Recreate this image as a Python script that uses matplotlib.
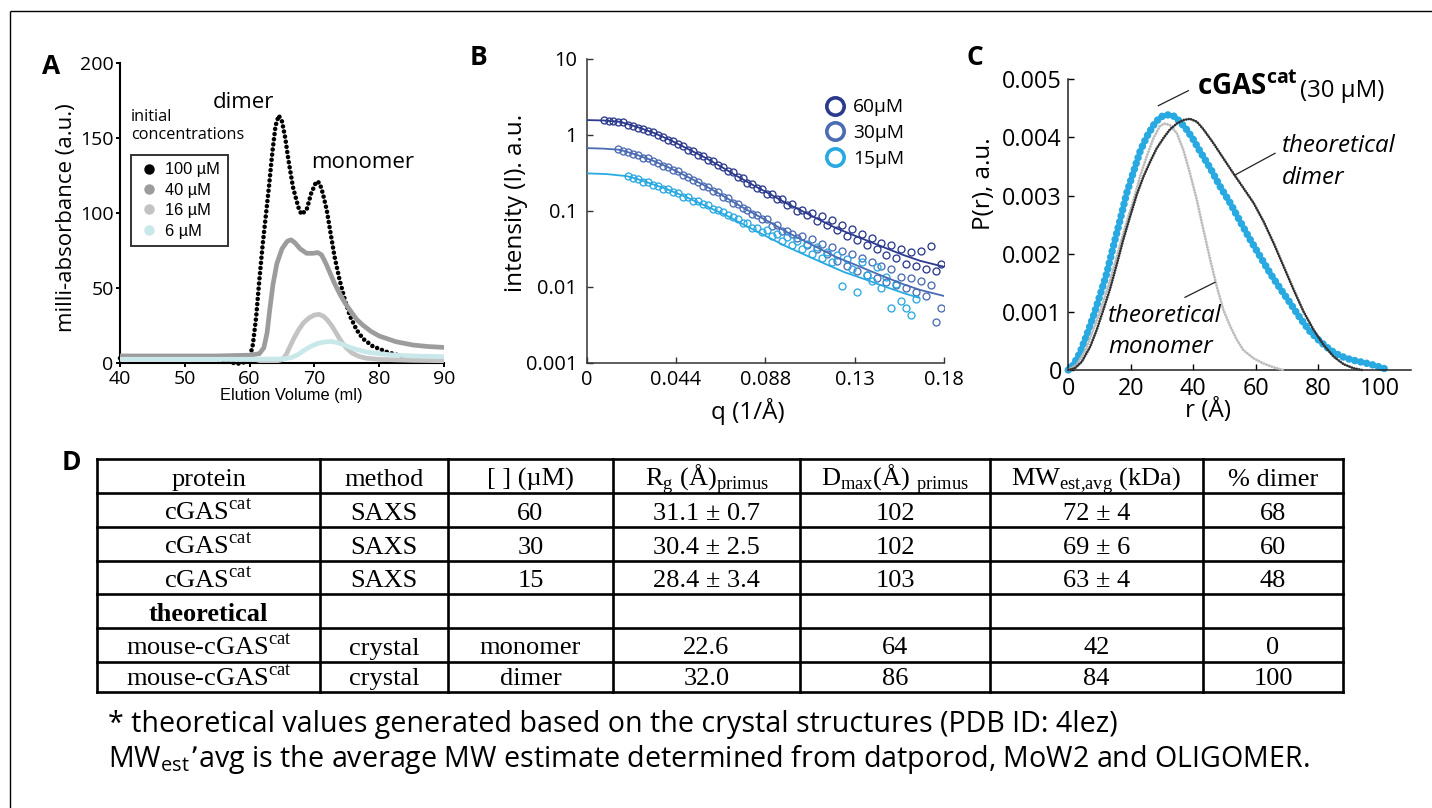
import matplotlib
matplotlib.use("Agg")
import matplotlib.pyplot as plt
from matplotlib.lines import Line2D
from matplotlib.ticker import NullLocator, FixedLocator, FixedFormatter
import numpy as np

W, H = 1432, 808
SANS = ["Open Sans", "DejaVu Sans"]
ARIAL = ["Liberation Sans", "DejaVu Sans"]
SERIF = ["Liberation Serif", "DejaVu Serif"]
plt.rcParams["font.family"] = SANS

# ---------------- Panel A : size-exclusion traces ----------------
a_labels = ["100 µM", "40 µM", "16 µM", "6 µM"]
a_colors = ["#000000", "#9c9c9c", "#c3c3c3", "#c8e8ea"]
vol_100 = [40, 45, 50, 55, 57, 58, 59, 60.0, 60.5, 61.0, 61.5, 62.0, 62.5, 63.0, 63.5, 64.0, 64.5,
           65.0, 65.5, 66.0, 66.7, 67.5, 68.0, 68.8, 69.5, 70.3, 70.8, 71.3, 71.9, 72.4, 73.1,
           73.9, 74.7, 75.5, 76.5, 77.5, 79.0, 81.1, 83.7, 86.2]
abs_100 = [3, 3, 3, 2.5, 0.5, -0.8, 0, 3, 12, 30, 55, 78, 98, 118, 140, 158, 165,
           161, 150, 135, 117, 104, 99, 102, 113, 121, 120, 113, 102, 89, 71,
           55, 42, 31, 22, 16, 11, 7.3, 4, 3]
vol_40 = [40, 50, 55, 60, 61.5, 62.2, 62.7, 63.1, 63.6, 64.2, 65.0, 65.8, 66.4, 67.0, 67.8,
          68.8, 69.8, 70.5, 71.1, 71.8, 72.4, 73.1, 73.9, 74.7, 75.5, 76.5, 77.5, 78.7, 80.0,
          82.6, 85.2, 87.5, 90.0]
abs_40 = [4.5, 4.5, 4.5, 5, 6, 10, 20, 35, 52, 66, 76, 81, 82, 80, 76,
          73, 73, 73.5, 72, 66, 60, 53, 46, 40, 35, 29, 25, 21, 17.8,
          14, 11.8, 10.8, 10.2]
vol_16 = [40, 55, 61, 62, 64, 65.0, 65.6, 66.2, 66.8, 67.5, 68.3, 69.2, 70.0, 70.7, 71.4,
          72.0, 72.7, 73.4, 74.1, 74.9, 75.8, 76.8, 78, 80, 85, 90]
abs_16 = [2.5, 2.5, 2, 1, 1, 2, 5, 10.5, 16, 21.5, 26.5, 30, 31.8, 32.3, 31,
          28.5, 24.5, 19.5, 14.5, 10, 6.5, 4.3, 3, 2.2, 1.6, 1.3]
vol_6 = [40, 50, 60, 65, 66.5, 67.5, 68.5, 69.5, 70.5, 71.5, 72.5, 73.5, 74.5, 75.5, 76.5,
         78, 80, 82.5, 86, 90]
abs_6 = [2.3, 2.3, 2.3, 2.5, 3.5, 5.5, 8.5, 11, 12.8, 13.8, 14.2, 13.5, 12, 10.2, 8.8,
         7.2, 6, 5, 4.4, 4.0]
a_xticks = [40, 50, 60, 70, 80, 90]
a_yticks = [0, 50, 100, 150, 200]

# ---------------- Panel B : SAXS curves ----------------
b_labels = ["60µM", "30µM", "15µM"]
b_colors = ["#2c3a8e", "#4b6bb3", "#29a9e1"]
q_grid = [0.0085, 0.011, 0.0135, 0.016, 0.0185, 0.021, 0.0235, 0.026, 0.0285, 0.031, 0.0335,
          0.036, 0.0385, 0.041, 0.0435, 0.046, 0.0485, 0.051, 0.0535, 0.056, 0.0585, 0.061,
          0.0635, 0.066, 0.0685, 0.071, 0.0735, 0.076, 0.0785, 0.081, 0.0835, 0.086, 0.0885,
          0.091, 0.0935, 0.096, 0.0985, 0.101, 0.1035, 0.106, 0.1085, 0.111, 0.1135, 0.116,
          0.1185, 0.121, 0.1235, 0.126, 0.1285, 0.131, 0.1335, 0.136, 0.1385, 0.141, 0.1435,
          0.146, 0.1485, 0.151, 0.1535, 0.156, 0.1585, 0.161, 0.1635, 0.166, 0.1685, 0.171,
          0.1735, 0.176, 0.1785]
i_60 = [1.56, 1.52, 1.53, 1.49, 1.46, 1.37, 1.33, 1.25, 1.20, 1.12, 1.08, 0.99, 0.95, 0.87,
        0.83, 0.75, 0.72, 0.64, 0.62, 0.55, 0.53, 0.47, 0.45, 0.40, 0.38, 0.33, 0.32, 0.275,
        0.27, 0.232, 0.228, 0.197, 0.195, 0.168, 0.166, 0.142, 0.143, 0.118, 0.122, 0.101,
        0.104, 0.087, 0.094, 0.074, 0.086, 0.066, 0.075, 0.056, 0.066, 0.047, 0.058, 0.041,
        0.049, 0.036, 0.044, 0.031, 0.038, 0.026, 0.035, 0.024, 0.031, 0.020, 0.029, 0.019,
        0.030, 0.017, 0.034, 0.016, 0.020]
i_30 = [0.65, 0.61, 0.60, 0.56, 0.545, 0.50, 0.49, 0.45, 0.43, 0.395, 0.38, 0.345, 0.33,
        0.295, 0.28, 0.255, 0.24, 0.215, 0.207, 0.183, 0.177, 0.153, 0.147, 0.128, 0.124,
        0.108, 0.104, 0.090, 0.089, 0.077, 0.077, 0.064, 0.066, 0.055, 0.055, 0.049, 0.044,
        0.046, 0.036, 0.042, 0.031, 0.037, 0.027, 0.033, 0.022, 0.030, 0.019, 0.027, 0.016,
        0.024, 0.0145, 0.021, 0.013, 0.019, 0.0115, 0.017, 0.0105, 0.0135, 0.0095, 0.013,
        0.0085, 0.012, 0.0075, 0.0105, 0.0034, 0.0052]
i_15 = [0.285, 0.268, 0.262, 0.243, 0.238, 0.219, 0.215, 0.196, 0.194, 0.176, 0.172, 0.153,
        0.151, 0.136, 0.133, 0.124, 0.118, 0.105, 0.102, 0.096, 0.089, 0.082, 0.078, 0.069,
        0.070, 0.060, 0.060, 0.052, 0.056, 0.046, 0.049, 0.040, 0.045, 0.036, 0.040, 0.031,
        0.037, 0.027, 0.033, 0.024, 0.029, 0.021, 0.026, 0.0101, 0.023, 0.017, 0.0086, 0.021,
        0.0145, 0.012, 0.018, 0.0095, 0.0135, 0.0052, 0.011, 0.0065, 0.0053, 0.0043, 0.0068]
q_fit = [0, 0.0084, 0.0168, 0.0252, 0.0336, 0.042, 0.0504, 0.0588, 0.0672, 0.0756, 0.084,
         0.0924, 0.1008, 0.1092, 0.1175, 0.1259, 0.1343, 0.1427, 0.1511, 0.1595, 0.1679, 0.1797]
fit_60 = [1.57, 1.55, 1.49, 1.28, 1.07, 0.857, 0.665, 0.516, 0.389, 0.288, 0.217, 0.166,
          0.125, 0.0975, 0.0757, 0.0588, 0.048, 0.0392, 0.032, 0.0262, 0.022, 0.0184]
fit_30 = [0.67, 0.66, 0.637, 0.547, 0.456, 0.366, 0.284, 0.220, 0.166, 0.123, 0.0925, 0.0705,
          0.0525, 0.0407, 0.0316, 0.0245, 0.020, 0.0162, 0.0132, 0.0108, 0.0091, 0.0076]
q_fit_15 = [0, 0.01, 0.02, 0.025, 0.03, 0.04, 0.05, 0.06, 0.07, 0.08, 0.09, 0.10, 0.11, 0.12,
            0.13, 0.14, 0.15, 0.16, 0.167]
fit_15 = [0.312, 0.305, 0.287, 0.265, 0.24, 0.195, 0.152, 0.116, 0.088, 0.064, 0.047, 0.0345,
          0.0263, 0.0201, 0.0155, 0.0126, 0.0101, 0.0082, 0.0072]
b_xticks = [0, 0.045, 0.09, 0.135, 0.18]
b_xticklabels = ["0", "0.044", "0.088", "0.13", "0.18"]
b_yticks = [0.001, 0.01, 0.1, 1, 10]
b_yticklabels = ["0.001", "0.01", "0.1", "1", "10"]

# ---------------- Panel C : P(r) ----------------
r_exp = [0, 1.6, 3.7, 5.9, 8, 10.2, 12.3, 14.4, 16.6, 18.7, 20.9, 23, 25.1, 27.3, 29.4, 31.6,
         33.7, 35.8, 38, 40.1, 42.2, 45.5, 48.7, 51.9, 55.1, 58.3, 61.5, 64.7, 67.9, 71.1,
         74.3, 77.5, 80.7, 84, 87.2, 90.4, 93.6, 96.8, 100, 102.7]
p_exp_milli = [0, 0.086, 0.29, 0.60, 0.92, 1.29, 1.66, 2.12, 2.58, 3.04, 3.41, 3.76, 4.01,
               4.21, 4.35, 4.39, 4.37, 4.27, 4.13, 3.96, 3.76, 3.47, 3.15, 2.87, 2.55, 2.24,
               1.95, 1.66, 1.40, 1.15, 0.89, 0.66, 0.49, 0.34, 0.24, 0.18, 0.14, 0.10, 0.046, 0]
r_dimer = [0, 2.1, 4.3, 7, 9.1, 11.2, 13.4, 15.5, 17.6, 19.8, 21.9, 24.1, 26.2, 28.3, 30.5,
           32.6, 34.8, 36.9, 39, 41.2, 43.3, 46.5, 49.7, 52.9, 56.1, 59.4, 62.6, 65.8, 69,
           72.2, 75.4, 78.6, 81.8, 85, 88.2, 91.4, 94.1]
p_dimer_milli = [0, 0.03, 0.14, 0.40, 0.69, 1.03, 1.40, 1.81, 2.24, 2.64, 3.01, 3.33, 3.58,
                 3.81, 3.99, 4.14, 4.24, 4.30, 4.32, 4.27, 4.14, 3.90, 3.64, 3.38, 3.13, 2.87,
                 2.55, 2.18, 1.78, 1.38, 1.00, 0.69, 0.43, 0.23, 0.10, 0.03, 0]
r_mono = [0, 2.7, 5.3, 8, 10.7, 13.4, 16, 18.7, 20.9, 23, 25.1, 27.3, 29.4, 31, 32.6, 34.8,
          36.9, 39, 41.2, 43.3, 45.5, 47.6, 49.7, 51.9, 54, 56.1, 59.4, 62.6, 65.8, 68.8]
p_mono_milli = [0, 0.09, 0.32, 0.69, 1.09, 1.55, 2.04, 2.55, 2.92, 3.33, 3.67, 3.99, 4.20,
                4.24, 4.21, 4.07, 3.78, 3.38, 2.92, 2.41, 1.89, 1.43, 1.03, 0.75, 0.52, 0.34,
                0.20, 0.11, 0.046, 0]
c_xticks = [0, 20, 40, 60, 80, 100]
c_yticks = [0, 0.001, 0.002, 0.003, 0.004, 0.005]
c_yticklabels = ["0", "0.001", "0.002", "0.003", "0.004", "0.005"]

# ---------------- Panel D : table ----------------
col_headers = ["protein", "method", "[ ] (µM)",
               r"R$_{\mathdefault{g}}$ (Å)$_{\mathdefault{primus}}$",
               r"D$_{\mathdefault{max}}$(Å) $_{\mathdefault{primus}}$",
               r"MW$_{\mathdefault{est{,}avg}}$ (kDa)", "% dimer"]
col_protein = [r"cGAS$^{\mathdefault{cat}}$", r"cGAS$^{\mathdefault{cat}}$", r"cGAS$^{\mathdefault{cat}}$",
               "theoretical", r"mouse-cGAS$^{\mathdefault{cat}}$", r"mouse-cGAS$^{\mathdefault{cat}}$"]
col_method = ["SAXS", "SAXS", "SAXS", "", "crystal", "crystal"]
col_conc = ["60", "30", "15", "", "monomer", "dimer"]
col_rg = ["31.1 ± 0.7", "30.4 ± 2.5", "28.4 ± 3.4", "", "22.6", "32.0"]
col_dmax = ["102", "102", "103", "", "64", "86"]
col_mw = ["72 ± 4", "69 ± 6", "63 ± 4", "", "42", "84"]
col_dimer = ["68", "60", "48", "", "0", "100"]
footnote_1 = "* theoretical values generated based on the crystal structures (PDB ID: 4lez)"
footnote_2 = r"MW$_{\mathdefault{est}}$’avg is the average MW estimate determined from datporod, MoW2 and OLIGOMER."

# ================= drawing =================
fig = plt.figure(figsize=(W / 100, H / 100), dpi=100)
fig.patch.set_facecolor("white")


def px_axes(left, top, right, bottom):
    return fig.add_axes([left / W, 1 - bottom / H, (right - left) / W, (bottom - top) / H])


def style_axes(ax, lw, color):
    for s in ("top", "right"):
        ax.spines[s].set_visible(False)
    for s in ("left", "bottom"):
        ax.spines[s].set_linewidth(lw)
        ax.spines[s].set_color(color)
    ax.patch.set_alpha(0)


# ---- A ----
axA = px_axes(120, 63, 444, 362.7)
style_axes(axA, 1.5, "black")
axA.plot(vol_100, abs_100, color=a_colors[0], lw=3.3, linestyle=(0, (0.01, 1.12)),
         dash_capstyle="round", zorder=2, clip_on=False)
axA.plot(vol_16, abs_16, color=a_colors[2], lw=3.4, solid_capstyle="round", zorder=3)
axA.plot(vol_40, abs_40, color=a_colors[1], lw=3.4, solid_capstyle="round", zorder=4)
axA.plot(vol_6, abs_6, color=a_colors[3], lw=3.4, solid_capstyle="round", zorder=5)
axA.set_xlim(40, 90)
axA.set_ylim(0, 200)
axA.set_xticks(a_xticks)
axA.set_yticks(a_yticks)
axA.tick_params(direction="out", length=3, width=1.4, labelsize=14, pad=1.5)
axA.tick_params(axis="x", pad=2.5)
axA.set_ylabel("milli-absorbance (a.u.)", fontsize=16, va="center", ha="center")
axA.yaxis.set_label_coords(-0.165, 0.483)
axA.set_xlabel("Elution Volume (ml)", fontsize=11.8, family=ARIAL, va="center", ha="center")
axA.xaxis.set_label_coords(0.529, -0.111)
handles = [Line2D([], [], marker="o", ls="", color=c, markersize=6.5) for c in a_colors]
legA = axA.legend(handles, a_labels, loc="upper left", bbox_to_anchor=(0.034, 0.693),
                  borderaxespad=0, frameon=True, fancybox=False, edgecolor="black",
                  prop={"family": ARIAL, "size": 11.8}, borderpad=0.45, handlelength=1.3,
                  handletextpad=0.35, labelspacing=0.33)
legA.get_frame().set_linewidth(1.4)
axA.text(0.034, 0.806, "initial", transform=axA.transAxes, fontsize=11.7, va="baseline")
axA.text(0.034, 0.746, "concentrations", transform=axA.transAxes, fontsize=11.7, va="baseline")
axA.text(0.287, 0.849, "dimer", transform=axA.transAxes, fontsize=16, va="baseline")
axA.text(0.590, 0.648, "monomer", transform=axA.transAxes, fontsize=16, va="baseline")

# ---- B ----
axB = px_axes(586.7, 59, 944, 362.7)
style_axes(axB, 1.1, "#333333")
axB.set_yscale("log")
series_B = [(q_grid, i_60, q_fit, fit_60), (q_grid[3:], i_30, q_fit, fit_30),
            (q_grid[5:64], i_15, q_fit_15, fit_15)]
for (qd, idat, qf, ifit), col in zip(series_B, b_colors):
    axB.plot(qd, idat, "o", mfc="none", mec=col, ms=5.0, mew=0.95, zorder=3)
    axB.plot(qf, ifit, color=col, lw=1.3, zorder=4)
axB.set_xlim(0, 0.18)
axB.set_ylim(0.001, 10)
axB.yaxis.set_major_locator(FixedLocator(b_yticks))
axB.yaxis.set_major_formatter(FixedFormatter(b_yticklabels))
axB.yaxis.set_minor_locator(NullLocator())
axB.set_xticks(b_xticks)
axB.set_xticklabels(b_xticklabels)
axB.tick_params(direction="in", length=4.3, width=1.0, color="#333333", labelsize=14.4)
axB.tick_params(axis="y", pad=7)
axB.tick_params(axis="x", pad=5)
axB.set_ylabel("intensity (I). a.u.", fontsize=17.5, va="center", ha="center")
axB.yaxis.set_label_coords(-0.198, 0.526)
axB.set_xlabel("q (1/Å)", fontsize=17.5, va="center", ha="center")
axB.xaxis.set_label_coords(0.450, -0.162)
hB = [Line2D([], [], marker="o", ls="", mfc="none", mec=c, markersize=12.5, mew=2.6)
      for c in b_colors]
axB.legend(hB, b_labels, loc="upper left", bbox_to_anchor=(0.668, 0.870), borderaxespad=0,
           frameon=False, fontsize=13.8, borderpad=0, handlelength=1.0, handletextpad=0.45,
           labelspacing=0.4)

# ---- C ----
axC = px_axes(1068.3, 79.3, 1410.7, 370)
style_axes(axC, 1.1, "#222222")
axC.plot(r_exp, np.array(p_exp_milli) * 1e-3, color="#29a9e1", lw=5.4,
         linestyle=(0, (0.01, 0.8)), dash_capstyle="round", zorder=2, clip_on=False)
axC.plot(r_mono, np.array(p_mono_milli) * 1e-3, color="#bdbdbd", lw=2.1,
         linestyle=(0, (0.01, 0.95)), dash_capstyle="round", zorder=3, clip_on=False)
axC.plot(r_dimer, np.array(p_dimer_milli) * 1e-3, color="#333333", lw=2.0,
         linestyle=(0, (0.01, 0.9)), dash_capstyle="round", zorder=4, clip_on=False)
axC.set_xlim(0, 109.7)
axC.set_ylim(0, 0.005)
axC.set_xticks(c_xticks)
axC.set_yticks(c_yticks)
axC.set_yticklabels(c_yticklabels)
axC.tick_params(direction="in", length=4.3, width=1.0, labelsize=16.8)
axC.tick_params(axis="y", pad=4.7)
axC.tick_params(axis="x", pad=5.0)
axC.set_ylabel("P(r), a.u.", fontsize=17.5, va="center", ha="center")
axC.yaxis.set_label_coords(-0.246, 0.6415)
axC.set_xlabel("r (Å)", fontsize=17.5, va="center", ha="center")
axC.xaxis.set_label_coords(0.4066, -0.140)

# ---- overlay: labels, annotations, table, footnote ----
ov = fig.add_axes([0, 0, 1, 1], zorder=10)
ov.set_xlim(0, W)
ov.set_ylim(H, 0)
ov.axis("off")

# outer frame lines
ov.plot([10, W], [11, 11], color="black", lw=1.0, solid_capstyle="butt")
ov.plot([10, 10], [11, H], color="black", lw=1.0, solid_capstyle="butt")

for lab, x, y in [("A", 42.5, 73.5), ("B", 470, 65), ("C", 966.5, 65), ("D", 62, 470)]:
    ov.text(x, y, lab, fontsize=19, fontweight="bold", va="baseline", ha="left")

# panel C annotations
ov.text(1197, 95, r"cGAS$^{\mathdefault{cat}}$", fontsize=20, fontweight="bold", va="baseline")
ov.text(1300, 97, "(30 µM)", fontsize=17.3, va="baseline")
ov.text(1282, 151.7, "theoretical", fontsize=17.4, style="italic", va="baseline")
ov.text(1282, 184, "dimer", fontsize=17.4, style="italic", va="baseline")
ov.text(1108, 321.7, "theoretical", fontsize=17.4, style="italic", va="baseline")
ov.text(1108, 353.3, "monomer", fontsize=17.4, style="italic", va="baseline")
for (x0, y0, x1, y1) in [(1158.3, 105.7, 1188.3, 90.7), (1235, 175, 1275, 153.3),
                         (1185, 297.3, 1215, 282.3)]:
    ov.plot([x0, x1], [y0, y1], color="#222222", lw=0.9)

# table
col_edges = [97, 320, 448, 613, 800, 990, 1203, 1343]
row_edges = [459, 493, 527, 561, 594, 628, 661.5, 692]
for y in row_edges:
    ov.plot([col_edges[0], col_edges[-1]], [y, y], color="black", lw=1.9, solid_capstyle="projecting")
for x in col_edges:
    ov.plot([x, x], [row_edges[0], row_edges[-1]], color="black", lw=1.9, solid_capstyle="projecting")
columns = [col_protein, col_method, col_conc, col_rg, col_dmax, col_mw, col_dimer]
for j, head in enumerate(col_headers):
    xc = (col_edges[j] + col_edges[j + 1]) / 2
    ov.text(xc, row_edges[1] - 7, head, family=SERIF, fontsize=19, ha="center", va="baseline")
    for i, val in enumerate(columns[j]):
        if not val:
            continue
        bold = (val == "theoretical")
        ov.text(xc, row_edges[i + 2] - 7, val, family=SERIF, fontsize=19, ha="center",
                va="baseline", fontweight="bold" if bold else "normal")

ov.text(108, 732, footnote_1, fontsize=20.6, va="baseline")
ov.text(108, 767, footnote_2, fontsize=20.6, va="baseline")

fig.savefig("out.png", dpi=100, facecolor="white")
